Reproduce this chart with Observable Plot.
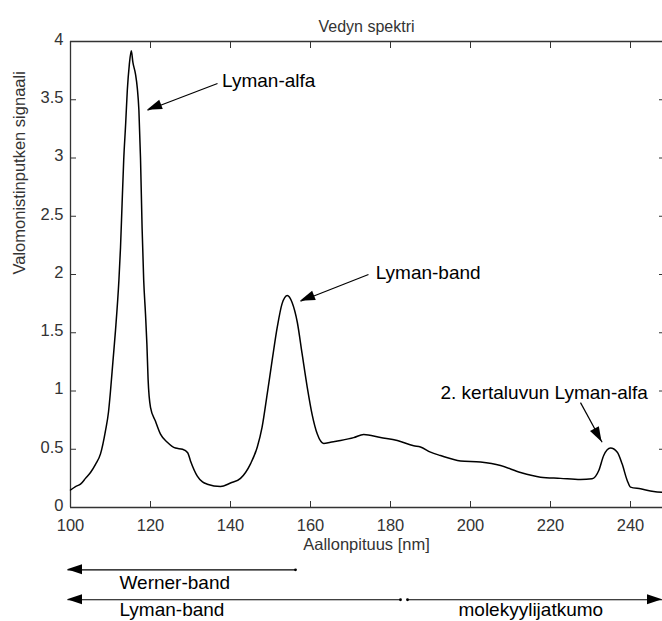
<!DOCTYPE html>
<html>
<head>
<meta charset="utf-8">
<script src="https://cdn.jsdelivr.net/npm/d3@7"></script>
<script src="https://cdn.jsdelivr.net/npm/@observablehq/plot@0.6"></script>
<style>
  html, body { margin: 0; padding: 0; background: #fff; }
  #chart svg { display: block; }
</style>
</head>
<body>
<div id="chart"></div>
<script>
// Hydrogen emission spectrum: photomultiplier signal against wavelength (nm)
const wavelength = [
  100, 101.25, 102.5, 103.75, 105, 106.25, 107.5, 108.75, 109.5, 110, 110.6, 111.25,
  112.1, 112.5, 112.9, 113.3, 113.8, 114.2, 114.7, 115.2, 115.6, 116.25, 116.7, 117.1,
  117.5, 117.9, 118.3, 118.75, 119.1, 119.4, 120, 121.25, 122.5, 124.2, 126.25, 128,
  129.3, 130, 131.7, 133, 134.2, 137.5, 140, 142.5, 145, 146.7, 147.9, 149.2,
  150.4, 151.7, 152.9, 154.2, 155.4, 156.7, 157.9, 159.2, 160.4, 161.7, 163.3, 165,
  167.5, 170.8, 173.3, 177.5, 181.7, 185.8, 187.5, 190, 192.5, 197.5, 202.5, 207.5,
  212.5, 217.5, 222.5, 227.5, 230.4, 232.1, 233.3, 235, 236.7, 237.9, 239.2, 240,
  242.5, 245.8, 248
];
const signal = [
  0.15, 0.18, 0.20, 0.25, 0.30, 0.37, 0.46, 0.66, 0.82, 1.00, 1.25, 1.52,
  1.95, 2.23, 2.61, 2.98, 3.30, 3.58, 3.80, 3.92, 3.82, 3.72, 3.60, 3.41,
  3.00, 2.40, 1.95, 1.66, 1.40, 1.10, 0.86, 0.74, 0.63, 0.56, 0.51, 0.50,
  0.47, 0.40, 0.27, 0.22, 0.20, 0.18, 0.21, 0.25, 0.375, 0.52, 0.69, 0.98,
  1.26, 1.55, 1.75, 1.82, 1.76, 1.59, 1.32, 1.03, 0.80, 0.63, 0.55, 0.56,
  0.575, 0.60, 0.627, 0.60, 0.575, 0.53, 0.52, 0.475, 0.446, 0.40, 0.39, 0.36,
  0.30, 0.26, 0.25, 0.24, 0.246, 0.32, 0.446, 0.51, 0.475, 0.375, 0.23, 0.175,
  0.16, 0.137, 0.13
];

const xTicks = [100, 120, 140, 160, 180, 200, 220, 240];
const yTicks = [0, 0.5, 1, 1.5, 2, 2.5, 3, 3.5, 4];

const title = "Vedyn spektri";
const xLabel = "Aallonpituus [nm]";
const yLabel = "Valomonistinputken signaali";

// Callouts pointing at the emission peaks
const calloutText  = ["Lyman-alfa", "Lyman-band", "2. kertaluvun Lyman-alfa"];
const calloutTextX = [137.9, 176.3, 192.5];
const calloutTextY = [3.66, 2.01, 0.983];
const calloutTailX = [136.75, 174.5, 227.5];
const calloutTailY = [3.64, 2.0, 0.90];
const calloutTipX  = [119.25, 157.5, 232.9];
const calloutTipY  = [3.41, 1.77, 0.56];

// Wavelength ranges marked below the axis
const rangeName   = ["Werner-band", "Lyman-band", "molekyylijatkumo"];
const rangeFrom   = [156.25, 182.5, 184.25];
const rangeTo     = [99.25, 99.25, 248];
const rangeRow    = [-0.535, -0.792, -0.792];
const rangeLabelX = [112.25, 112.25, 197];
const rangeLabelY = [-0.644, -0.88, -0.88];

const spectrum = wavelength.map((w, i) => ({w, s: signal[i]}));
const callouts = calloutText.map((t, i) => ({
  t, tx: calloutTextX[i], ty: calloutTextY[i],
  x1: calloutTailX[i], y1: calloutTailY[i], x2: calloutTipX[i], y2: calloutTipY[i]
}));
const ranges = rangeName.map((t, i) => ({
  t, x1: rangeFrom[i], x2: rangeTo[i], y: rangeRow[i], lx: rangeLabelX[i], ly: rangeLabelY[i]
}));

const axisFont = "'Liberation Sans', Arial, sans-serif";
const ink = "#222";
const blank = () => "";

const chart = Plot.plot({
  width: 662,
  height: 621,
  marginLeft: 70,
  marginRight: 0,
  marginTop: 41,
  marginBottom: 114,
  x: {domain: [100, 248]},
  y: {domain: [0, 4]},
  style: {fontFamily: axisFont, color: ink, background: "#fff", overflow: "visible"},
  marks: [
    // box edges
    Plot.ruleY([0], {stroke: "#333", strokeWidth: 1.3}),
    Plot.ruleY([4], {stroke: "#333", strokeWidth: 1.3}),
    Plot.ruleX([100], {stroke: "#333", strokeWidth: 1.3}),
    // inward ticks on all sides
    Plot.axisX(xTicks, {anchor: "bottom", tickSize: -6, tickFormat: blank, label: null, stroke: "#333"}),
    Plot.axisX(xTicks, {anchor: "top", tickSize: -6, tickFormat: blank, label: null, stroke: "#333"}),
    Plot.axisY(yTicks, {anchor: "left", tickSize: -6, tickFormat: blank, label: null, stroke: "#333"}),
    Plot.axisY(yTicks, {anchor: "right", tickSize: -4, tickFormat: blank, label: null, stroke: "#333"}),
    // tick labels
    Plot.axisX(xTicks, {anchor: "bottom", tickSize: 0, tickPadding: 12, tickFormat: d => String(d),
      label: null, fontSize: 16.5, fill: "#333"}),
    Plot.axisY(yTicks, {anchor: "left", tickSize: 0, tickPadding: 7, dy: -2, tickFormat: d => String(d),
      label: null, fontSize: 16.5, fill: "#333"}),
    // titles
    Plot.text([title], {frameAnchor: "top", dy: -21, text: d => d, fontSize: 16, fill: "#333",
      style: "letter-spacing:0.8px"}),
    Plot.text([xLabel], {frameAnchor: "bottom", dy: 42, text: d => d, fontSize: 16.5, fill: "#333"}),
    Plot.text([yLabel], {frameAnchor: "left", dx: -51, rotate: -90, text: d => d, fontSize: 16.5, fill: "#333"}),
    // spectrum
    Plot.line(spectrum, {x: "w", y: "s", stroke: "#000", strokeWidth: 1.5, curve: "monotone-x"}),
    // callouts
    Plot.link(callouts, {x1: "x1", y1: "y1", x2: "x2", y2: "y2", stroke: "#000", strokeWidth: 1.2}),
    Plot.text(callouts, {x: "tx", y: "ty", text: "t", textAnchor: "start", fontSize: 19, fill: "#000",
      fontFamily: "'Liberation Sans', Arial, sans-serif"}),
    // wavelength ranges
    Plot.link(ranges, {x1: "x1", x2: "x2", y1: "y", y2: "y", stroke: "#000", strokeWidth: 1.2}),
    Plot.dot(ranges, {x: "x1", y: "y", r: 1.4, fill: "#000"}),
    Plot.text(ranges, {x: "lx", y: "ly", text: "t", textAnchor: "start", fontSize: 19, fill: "#000",
      fontFamily: "'Liberation Sans', Arial, sans-serif"})
  ]
});

// Filled arrowheads at the pointed ends, placed through the plot's own scales
const sx = chart.scale("x"), sy = chart.scale("y");
const fx = d3.scaleLinear(sx.domain, sx.range);
const fy = d3.scaleLinear(sy.domain, sy.range);
const heads = [
  ...callouts.map(c => [c.x1, c.y1, c.x2, c.y2]),
  ...ranges.map(r => [r.x1, r.y, r.x2, r.y])
];
const headLen = 15, headHalf = 5;
const g = d3.select(chart).append("g").attr("fill", "#000");
for (const [ax, ay, bx, by] of heads) {
  const px = fx(bx), py = fy(by), qx = fx(ax), qy = fy(ay);
  const dx = px - qx, dy = py - qy, len = Math.hypot(dx, dy);
  const ux = dx / len, uy = dy / len;
  const bxp = px - ux * headLen, byp = py - uy * headLen;
  g.append("path").attr("d",
    `M${px},${py}L${bxp - uy * headHalf},${byp + ux * headHalf}L${bxp + uy * headHalf},${byp - ux * headHalf}Z`);
}

document.getElementById("chart").appendChild(chart);
</script>
</body>
</html>
